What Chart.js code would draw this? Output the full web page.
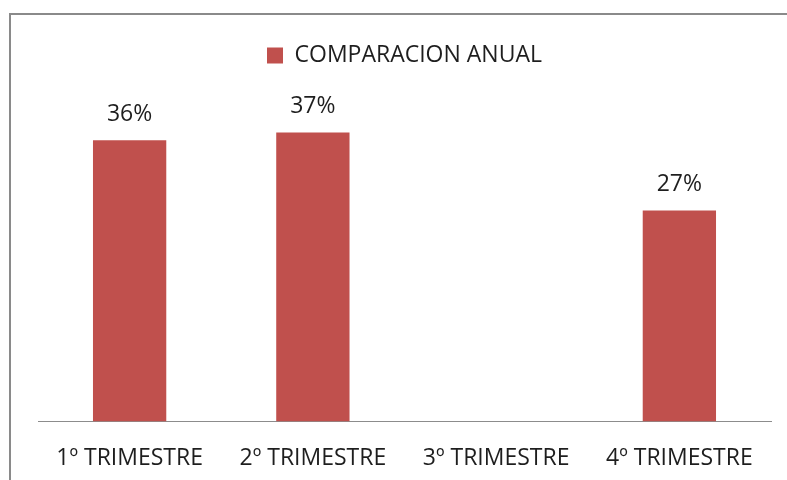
<!DOCTYPE html>
<html>
<head>
<meta charset="utf-8">
<script src="https://cdn.jsdelivr.net/npm/chart.js@4"></script>
<style>
  html, body { margin: 0; padding: 0; background: #fff; }
  #wrap { width: 787px; height: 480px; position: relative; }
</style>
</head>
<body>
<div id="wrap"><canvas id="chart" width="787" height="480"></canvas></div>
<script>
// chart data
const categories = ['1º TRIMESTRE', '2º TRIMESTRE', '3º TRIMESTRE', '4º TRIMESTRE'];
const seriesName = 'COMPARACION ANUAL';
const seriesValues = [36, 37, null, 27];

const FONT = '"Open Sans", sans-serif';
const TEXT = '#1e1e1e';

// outer frame of the chart object (left and top edge visible)
const framePlugin = {
    id: 'frame',
    beforeDraw(chart) {
        const ctx = chart.ctx;
        ctx.save();
        ctx.strokeStyle = '#8a8a8a';
        ctx.lineWidth = 2;
        ctx.beginPath();
        ctx.moveTo(10, chart.height + 5);
        ctx.lineTo(10, 14);
        ctx.lineTo(chart.width + 5, 14);
        ctx.stroke();
        ctx.restore();
    }
};

// extra room between legend and plot
const legendGap = {
    id: 'legendGap',
    beforeInit(chart) {
        const fit = chart.legend.fit;
        chart.legend.fit = function () {
            fit.bind(chart.legend)();
            this.height += 32;
        };
    }
};

// percentage labels above bars
const valueLabels = {
    id: 'valueLabels',
    afterDatasetsDraw(chart) {
        const ctx = chart.ctx;
        const meta = chart.getDatasetMeta(0);
        ctx.save();
        ctx.font = '23px ' + FONT;
        ctx.fillStyle = TEXT;
        ctx.textAlign = 'center';
        ctx.textBaseline = 'middle';
        meta.data.forEach((bar, i) => {
            const v = seriesValues[i];
            if (v == null) return;
            ctx.fillText(v + '%', bar.x, bar.y - 26);
        });
        ctx.restore();
    }
};

new Chart(document.getElementById('chart'), {
    type: 'bar',
    data: {
        labels: categories,
        datasets: [{
            label: seriesName,
            data: seriesValues,
            backgroundColor: '#C0504D',
            categoryPercentage: 1,
            barPercentage: 0.4
        }]
    },
    options: {
        responsive: false,
        animation: false,
        layout: { padding: { left: 38, right: 16, top: 34, bottom: -7 } },
        plugins: {
            legend: {
                position: 'top',
                labels: {
                    color: TEXT,
                    font: { family: FONT, size: 23 },
                    boxWidth: 16,
                    boxHeight: 16,
                    padding: 10
                }
            },
            tooltip: { enabled: false }
        },
        scales: {
            x: {
                grid: { display: false },
                border: { color: '#8c8c8c', width: 1 },
                ticks: { color: TEXT, font: { family: FONT, size: 23 }, padding: 15, maxRotation: 0 }
            },
            y: {
                display: false,
                min: 0,
                max: 40
            }
        }
    },
    plugins: [framePlugin, legendGap, valueLabels]
});
</script>
</body>
</html>
